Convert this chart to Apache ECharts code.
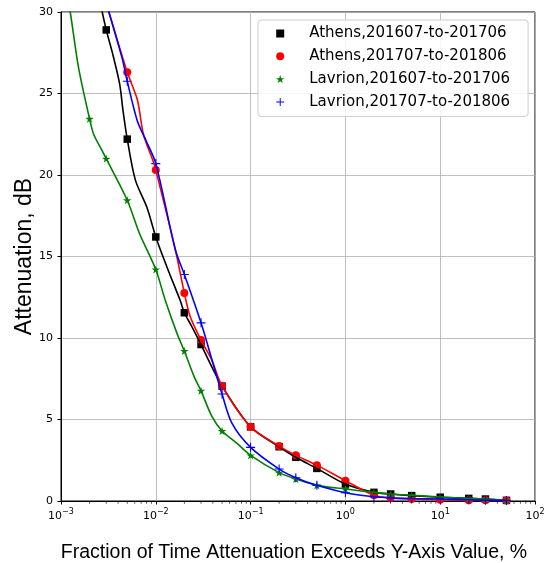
<!DOCTYPE html>
<html>
<head>
<meta charset="utf-8">
<script src="https://cdn.jsdelivr.net/npm/echarts@6/dist/echarts.min.js"></script>
<style>
html,body{margin:0;padding:0;background:#fff;}
#chart{width:549px;height:563px;}
</style>
</head>
<body>
<div id="chart"></div>
<script>
// ---- data ----
const seriesNames = ['Athens,201607-to-201706','Athens,201707-to-201806','Lavrion,201607-to-201706','Lavrion,201707-to-201806'];

// marker points (fraction of time %, attenuation dB); null = above the plotted range
const markerX = [0.002,0.003,0.005,0.01,0.02,0.03,0.05,0.1,0.2,0.3,0.5,1,2,3,5,10,20,30,50];
const athens1617 = [null,28.9,22.2,16.2,11.55,9.6,7.05,4.55,3.33,2.68,2.0,1.04,0.53,0.43,0.33,0.23,0.16,0.12,0.04];
const athens1718 = [null,null,26.3,20.3,12.76,9.87,7.05,4.55,3.37,2.8,2.2,1.25,0.35,0.18,0.12,0.08,0.05,0.04,0.03];
const lavrion1617 = [23.45,21.0,18.45,14.2,9.2,6.76,4.29,2.8,1.74,1.35,0.96,0.74,0.53,0.43,0.35,0.25,0.16,0.12,0.03];
const lavrion1718 = [null,null,25.75,20.7,13.9,10.93,6.56,3.29,1.96,1.43,0.96,0.51,0.26,0.19,0.15,0.12,0.08,0.05,0.03];

// curve points
const athens1617LineX = [0.0025,0.003,0.00345,0.00415,0.0045,0.005,0.00608,0.00807,0.01,0.0131,0.0181,0.02,0.024,0.03,0.039,0.05,0.1,0.2,0.3,0.5,1,2,3,5,10,20,30,50];
const athens1617LineY = [31.0,28.9,27.6,25.6,24.0,22.2,19.7,18.0,16.2,14.36,12.3,11.55,10.7,9.6,8.23,7.05,4.55,3.33,2.68,2.0,1.04,0.53,0.43,0.33,0.23,0.16,0.12,0.04];
const athens1718LineX = [0.0028,0.0032,0.005,0.0064,0.0074,0.0093,0.01,0.0161,0.02,0.0231,0.03,0.039,0.05,0.1,0.2,0.3,0.5,1,2,3,5,10,20,30,50];
const athens1718LineY = [31.2,30.0,26.3,24.6,22.5,20.9,20.3,15.4,12.76,11.3,9.87,8.64,7.05,4.55,3.37,2.8,2.2,1.25,0.35,0.18,0.12,0.08,0.05,0.04,0.03];
const lavrion1617LineX = [0.0011,0.00125,0.00153,0.002,0.00221,0.0026,0.003,0.005,0.00675,0.01,0.0126,0.0167,0.02,0.0255,0.03,0.0392,0.05,0.072,0.1,0.2,0.3,0.5,1,2,3,5,10,20,30,50];
const lavrion1617LineY = [31.6,30.0,26.6,23.45,22.5,21.7,21.0,18.45,16.4,14.2,12.3,10.3,9.2,7.6,6.76,5.17,4.29,3.53,2.8,1.74,1.35,0.96,0.74,0.53,0.43,0.35,0.25,0.16,0.12,0.03];
const lavrion1718LineX = [0.0028,0.0032,0.0044,0.005,0.0064,0.0079,0.01,0.0161,0.02,0.03,0.0392,0.05,0.0637,0.1,0.2,0.3,0.5,1,2,3,5,10,20,30,50];
const lavrion1718LineY = [31.2,30.0,27.2,25.75,23.3,22.1,20.7,15.4,13.9,10.93,8.64,6.56,4.76,3.29,1.96,1.43,0.96,0.51,0.26,0.19,0.15,0.12,0.08,0.05,0.03];

// axis ticks
const yTicks = [0,5,10,15,20,25,30];
const minorTickX = [];
[0.001,0.01,0.1,1,10].forEach(function(d){ for (let k=2;k<=9;k++) minorTickX.push(+(k*d).toPrecision(3)); });

// ---- helpers ----
function pairs(xs, ys){ const out=[]; for (let i=0;i<xs.length;i++){ if (ys[i]!==null) out.push([xs[i], ys[i]]); } return out; }

const squarePath = 'path://M0,0 L10,0 L10,10 L0,10 Z';
const starPath = 'path://M50,0 L61.23,34.55 L97.55,34.55 L68.16,55.9 L79.39,90.45 L50,69.1 L20.61,90.45 L31.84,55.9 L2.45,34.55 L38.77,34.55 Z';
const plusPath = 'path://M4.4,0 L5.6,0 L5.6,4.4 L10,4.4 L10,5.6 L5.6,5.6 L5.6,10 L4.4,10 L4.4,5.6 L0,5.6 L0,4.4 L4.4,4.4 Z';

const colors = ['#000000','#ff0000','#008000','#0000ff'];
const symbols = [squarePath,'circle',starPath,plusPath];
const symbolSizes = [7.5,8,8.5,9];
const markerData = [athens1617, athens1718, lavrion1617, lavrion1718];
const lineXs = [athens1617LineX, athens1718LineX, lavrion1617LineX, lavrion1718LineX];
const lineYs = [athens1617LineY, athens1718LineY, lavrion1617LineY, lavrion1718LineY];

const series = [];
for (let i=0;i<4;i++){
  series.push({
    name: seriesNames[i] + ' curve',
    type: 'line',
    data: pairs(lineXs[i], lineYs[i]),
    showSymbol: false,
    symbol: 'none',
    smooth: 0.3,
    clip: true,
    lineStyle: {color: colors[i], width: 1.6},
    silent: true
  });
  series.push({
    name: seriesNames[i],
    type: 'scatter',
    data: pairs(markerX, markerData[i]),
    symbol: symbols[i],
    symbolSize: symbolSizes[i],
    symbolKeepAspect: true,
    itemStyle: {color: colors[i], opacity: 1},
    silent: true
  });
}
// minor ticks of the log axis
series.push({
  name: 'minor',
  type: 'scatter',
  data: minorTickX.map(function(v){ return [v, 0]; }),
  symbol: 'rect',
  symbolSize: [0.8, 2.5],
  symbolOffset: [0, 1.4],
  itemStyle: {color: '#000'},
  clip: false,
  silent: true,
  z: 10
});

function supLabel(v){
  const e = Math.round(Math.log10(v));
  const s = e < 0 ? '\u2212' + (-e) : String(e);
  return '{b|10}{s|' + s + '}';
}

const legendData = seriesNames.map(function(n, i){ return {name: n, icon: symbols[i]}; });

const chart = echarts.init(document.getElementById('chart'), null, {renderer: 'canvas'});
chart.setOption({
  animation: false,
  backgroundColor: '#ffffff',
  grid: {left: 61, right: 14, top: 12, bottom: 62, containLabel: false, outerBoundsMode: 'none',
         show: true, borderColor: '#000', borderWidth: 1, backgroundColor: 'transparent'},
  legend: {
    data: legendData,
    orient: 'vertical',
    left: 258, top: 20,
    padding: [6, 18, 7, 18],
    itemWidth: 20, itemHeight: 8, itemGap: 7.8,
    backgroundColor: 'rgba(255,255,255,0.85)',
    borderColor: '#cccccc', borderWidth: 1, borderRadius: 3,
    textStyle: {fontFamily: 'DejaVu Sans', fontSize: 15, color: '#000', padding: [0,0,0,14]},
    selectedMode: false
  },
  xAxis: {
    type: 'log', logBase: 10, min: 0.001, max: 100,
    axisLine: {show: true, onZero: false, lineStyle: {color: '#000', width: 1}},
    axisTick: {show: true, length: 3.5, lineStyle: {color: '#000', width: 1}},
    splitLine: {show: true, lineStyle: {color: '#b0b0b0', width: 0.8}},
    axisLabel: {
      margin: 7,
      formatter: supLabel,
      rich: {
        b: {fontFamily: 'DejaVu Sans', fontSize: 11, color: '#000', verticalAlign: 'bottom'},
        s: {fontFamily: 'DejaVu Sans', fontSize: 8, color: '#000', verticalAlign: 'bottom', padding: [0,0,6,0]}
      }
    },
    name: 'Fraction of Time Attenuation Exceeds Y-Axis Value, %',
    nameLocation: 'middle', nameGap: 42, nameMoveOverlap: false,
    nameTextStyle: {fontFamily: 'Liberation Sans', fontSize: 19.5, color: '#000', padding: [0,8,0,0]}
  },
  yAxis: {
    type: 'value', min: yTicks[0], max: yTicks[yTicks.length-1], interval: 5,
    axisLine: {show: true, lineStyle: {color: '#000', width: 1}},
    axisTick: {show: true, length: 3.5, lineStyle: {color: '#000', width: 1}},
    splitLine: {show: true, lineStyle: {color: '#b0b0b0', width: 0.8}},
    axisLabel: {fontFamily: 'DejaVu Sans', fontSize: 11, color: '#000', margin: 8},
    name: 'Attenuation, dB',
    nameLocation: 'middle', nameGap: 24.5, nameMoveOverlap: false,
    nameTextStyle: {fontFamily: 'Liberation Sans', fontSize: 23, color: '#000'}
  },
  series: series
});
</script>
</body>
</html>
